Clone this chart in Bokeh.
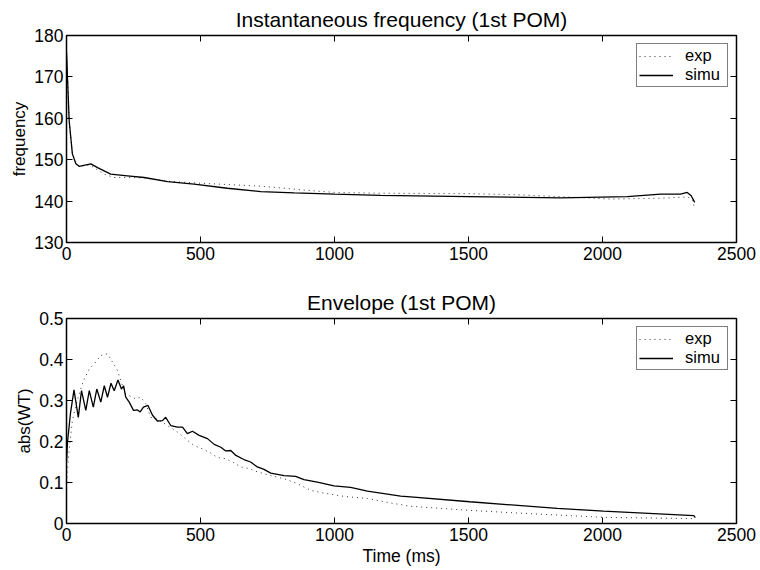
from bokeh.plotting import figure
from bokeh.layouts import column
from bokeh.models import (Range1d, LinearAxis, Legend, LegendItem, FixedTicker,
                          CustomJSTickFormatter)
from bokeh.embed import file_html
from bokeh.resources import INLINE

# ---------------- data ----------------
x_ticks = [0, 500, 1000, 1500, 2000, 2500]
freq_ticks = [130, 140, 150, 160, 170, 180]
env_ticks = [0, 0.1, 0.2, 0.3, 0.4, 0.5]

freq_t_simu = [0, 10, 22, 35, 47, 91, 116, 165, 227, 290, 377, 476, 600, 725, 850,
               1000, 1172, 1500, 1844, 2092, 2217, 2291, 2316, 2331, 2344]
freq_simu = [176, 159.4, 151.4, 149.0, 148.4, 149.0, 148.1, 146.5, 146.1, 145.7, 144.7,
             144.1, 143.1, 142.3, 142.0, 141.7, 141.4, 141.1, 140.8, 141.1, 141.7, 141.7,
             142.1, 141.3, 139.7]

freq_t_exp = [0, 10, 22, 35, 47, 85, 103, 140, 178, 227, 290, 377, 476, 600, 725, 900,
              1000, 1172, 1500, 1700, 2030, 2217, 2316, 2335, 2344]
freq_exp = [176, 159.4, 151.4, 149.0, 148.4, 148.7, 148.1, 146.5, 145.7, 145.7, 145.6,
            144.8, 144.4, 144.0, 143.6, 142.6, 142.1, 141.9, 141.8, 141.5, 140.5, 140.7,
            141.0, 140.5, 138.2]

env_t_simu = [0, 4, 15, 28, 44, 56, 72, 85, 100, 113, 128, 141, 153, 166, 178, 192, 205,
              213, 221, 234, 250, 265, 275, 287, 304, 321, 339, 358, 370, 389, 414, 433,
              451, 470, 495, 526, 551, 576, 594, 613, 632, 662, 687, 712, 737, 762, 812,
              855, 886, 936, 998, 1060, 1123, 1185, 1247, 1284, 1505, 1831, 2004, 2341, 2346]
env_simu = [0.15, 0.2, 0.27, 0.326, 0.259, 0.324, 0.276, 0.324, 0.284, 0.328, 0.296,
            0.336, 0.308, 0.342, 0.324, 0.350, 0.328, 0.336, 0.308, 0.296, 0.276, 0.277,
            0.272, 0.284, 0.288, 0.264, 0.250, 0.251, 0.259, 0.239, 0.235, 0.235, 0.219,
            0.225, 0.215, 0.207, 0.193, 0.186, 0.177, 0.178, 0.166, 0.156, 0.15, 0.138,
            0.132, 0.123, 0.117, 0.115, 0.107, 0.101, 0.092, 0.088, 0.079, 0.073, 0.067,
            0.065, 0.053, 0.037, 0.030, 0.019, 0.014]

env_t_exp = [0, 10, 22, 40, 56, 64, 85, 103, 128, 153, 172, 188, 196, 209, 221, 258, 277,
             296, 314, 339, 395, 414, 451, 476, 507, 538, 563, 594, 619, 650, 681, 712,
             762, 812, 862, 911, 961, 1036, 1123, 1210, 1284, 1505, 1669, 2004, 2335, 2341]
env_exp = [0.1, 0.18, 0.251, 0.3, 0.334, 0.349, 0.377, 0.389, 0.41, 0.414, 0.393, 0.377,
           0.361, 0.336, 0.316, 0.304, 0.308, 0.292, 0.259, 0.255, 0.231, 0.223, 0.203,
           0.19, 0.182, 0.172, 0.161, 0.158, 0.150, 0.138, 0.134, 0.126, 0.117, 0.109,
           0.097, 0.081, 0.074, 0.066, 0.061, 0.050, 0.042, 0.032, 0.026, 0.015, 0.012,
           0.008]

FONT = "Liberation Sans"


def style_axis(ax, ticks, show_labels=True, standoff=3):
    ax.ticker = FixedTicker(ticks=ticks)
    ax.major_tick_in = 6
    ax.major_tick_out = 0
    ax.minor_tick_line_color = None
    ax.axis_line_color = None
    ax.major_tick_line_color = "black"
    ax.major_tick_line_width = 1
    ax.major_label_text_font = FONT
    if show_labels:
        ax.major_label_text_color = "black"
        ax.major_label_text_font_size = "17.5px"
        ax.major_label_standoff = standoff
    else:
        ax.major_label_text_color = None
        ax.major_label_text_font_size = "0px"
        ax.major_label_standoff = 0


def make_panel(title, ylabel, y0, y1, yticks, height, top, bottom, xlabel=None,
               yformatter=None, t_exp=None, v_exp=None, t_sim=None, v_sim=None):
    p = figure(width=756, height=height, output_backend="svg", toolbar_location=None,
               x_range=Range1d(0, 2500), y_range=Range1d(y0, y1),
               min_border_left=66, min_border_right=20,
               min_border_top=top, min_border_bottom=bottom)
    p.background_fill_color = "white"
    p.border_fill_color = "white"
    p.outline_line_color = "black"
    p.outline_line_width = 1.5
    p.xgrid.grid_line_color = None
    p.ygrid.grid_line_color = None

    p.title.text = title
    p.title.align = "center"
    p.title.text_font = FONT
    p.title.text_font_size = "21px"
    p.title.text_font_style = "normal"
    p.title.text_color = "black"
    p.title.standoff = 9

    style_axis(p.xaxis[0], x_ticks, standoff=4)
    style_axis(p.yaxis[0], yticks, standoff=3)
    if yformatter is not None:
        p.yaxis[0].formatter = yformatter
    p.yaxis[0].axis_label = ylabel
    p.yaxis[0].axis_label_text_font = FONT
    p.yaxis[0].axis_label_text_font_size = "17px"
    p.yaxis[0].axis_label_text_font_style = "normal"
    p.yaxis[0].axis_label_text_color = "black"
    p.yaxis[0].axis_label_standoff = 2
    if xlabel:
        p.xaxis[0].axis_label = xlabel
        p.xaxis[0].axis_label_text_font = FONT
        p.xaxis[0].axis_label_text_font_size = "17.5px"
        p.xaxis[0].axis_label_text_font_style = "normal"
        p.xaxis[0].axis_label_text_color = "black"
        p.xaxis[0].axis_label_standoff = 2

    top_ax = LinearAxis()
    style_axis(top_ax, x_ticks, show_labels=False)
    p.add_layout(top_ax, "above")
    right_ax = LinearAxis()
    style_axis(right_ax, yticks, show_labels=False)
    p.add_layout(right_ax, "right")

    r_exp = p.line(t_exp, v_exp, line_color="#333333", line_width=1, line_dash="1 4")
    r_sim = p.line(t_sim, v_sim, line_color="black", line_width=1.3)

    legend = Legend(items=[LegendItem(label="exp", renderers=[r_exp]),
                           LegendItem(label="simu", renderers=[r_sim])],
                    location="top_right", margin=8, padding=2, spacing=0,
                    glyph_width=34, glyph_height=18, label_standoff=12,
                    label_width=40, label_height=18,
                    border_line_color="black", border_line_width=1,
                    label_text_font=FONT, label_text_font_size="16.5px",
                    label_text_color="black", label_text_line_height=1.0,
                    background_fill_color="white", background_fill_alpha=1)
    p.add_layout(legend)
    return p


p1 = make_panel("Instantaneous frequency (1st POM)", "frequency", 130, 180, freq_ticks,
                height=280, top=35, bottom=38,
                t_exp=freq_t_exp, v_exp=freq_exp, t_sim=freq_t_simu, v_sim=freq_simu)

env_fmt = CustomJSTickFormatter(code="return tick == 0 ? '0' : tick.toFixed(1);")
p2 = make_panel("Envelope (1st POM)", "abs(WT)", 0, 0.5, env_ticks,
                height=290, top=38, bottom=47, xlabel="Time (ms)", yformatter=env_fmt,
                t_exp=env_t_exp, v_exp=env_exp, t_sim=env_t_simu, v_sim=env_simu)

layout = column(p1, p2, spacing=0)
open("out.html", "w").write(file_html(layout, INLINE))
